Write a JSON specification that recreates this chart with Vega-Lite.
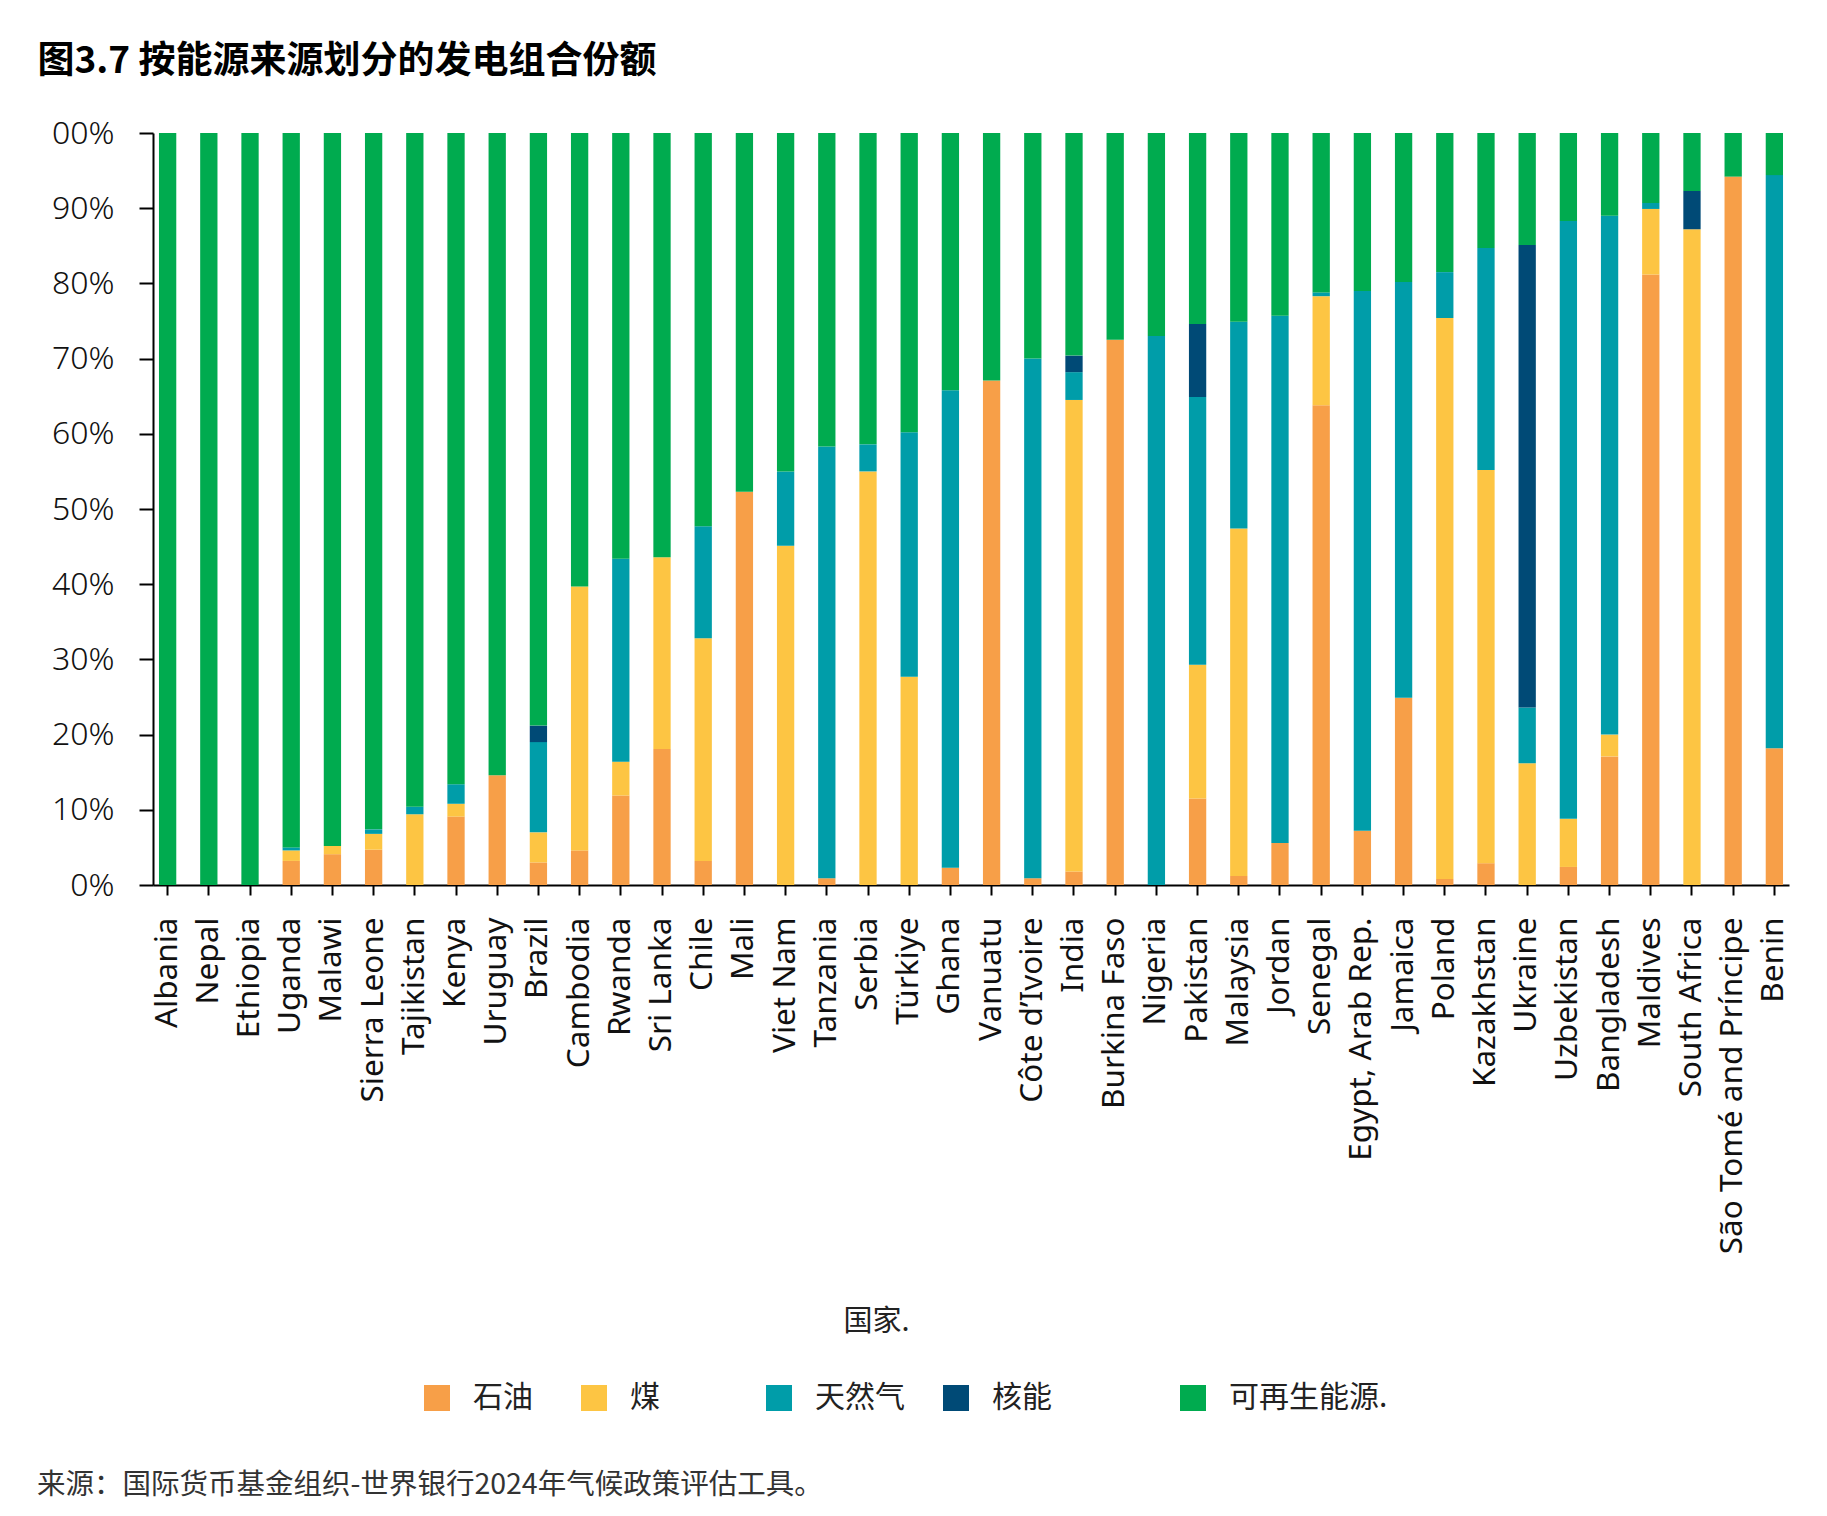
{
  "$schema": "https://vega.github.io/schema/vega-lite/v6.json",
  "width": 1636,
  "height": 752,
  "autosize": {"type": "none"},
  "padding": {"left": 153, "top": 133, "right": 38, "bottom": 631},
  "background": "white",
  "title": {
    "text": "来源：国际货币基金组织-世界银行2024年气候政策评估工具。",
    "orient": "bottom",
    "anchor": "start",
    "frame": "group",
    "dx": -116,
    "offset": 58,
    "font": "Noto Sans CJK SC",
    "fontSize": 28.5,
    "fontWeight": "normal",
    "color": "#333333"
  },
  "data": {
    "values": [
      {"c": "Albania", "s": "可再生能源.", "v": 100},
      {"c": "Nepal", "s": "可再生能源.", "v": 100},
      {"c": "Ethiopia", "s": "可再生能源.", "v": 100},
      {"c": "Uganda", "s": "石油", "v": 3.2}, {"c": "Uganda", "s": "煤", "v": 1.4}, {"c": "Uganda", "s": "天然气", "v": 0.4}, {"c": "Uganda", "s": "可再生能源.", "v": 95.0},
      {"c": "Malawi", "s": "石油", "v": 4.1}, {"c": "Malawi", "s": "煤", "v": 1.1}, {"c": "Malawi", "s": "可再生能源.", "v": 94.8},
      {"c": "Sierra Leone", "s": "石油", "v": 4.7}, {"c": "Sierra Leone", "s": "煤", "v": 2.1}, {"c": "Sierra Leone", "s": "天然气", "v": 0.6}, {"c": "Sierra Leone", "s": "可再生能源.", "v": 92.6},
      {"c": "Tajikistan", "s": "煤", "v": 9.4}, {"c": "Tajikistan", "s": "天然气", "v": 1.0}, {"c": "Tajikistan", "s": "可再生能源.", "v": 89.6},
      {"c": "Kenya", "s": "石油", "v": 9.1}, {"c": "Kenya", "s": "煤", "v": 1.7}, {"c": "Kenya", "s": "天然气", "v": 2.6}, {"c": "Kenya", "s": "可再生能源.", "v": 86.6},
      {"c": "Uruguay", "s": "石油", "v": 14.6}, {"c": "Uruguay", "s": "可再生能源.", "v": 85.4},
      {"c": "Brazil", "s": "石油", "v": 3.0}, {"c": "Brazil", "s": "煤", "v": 4.0}, {"c": "Brazil", "s": "天然气", "v": 12.0}, {"c": "Brazil", "s": "核能", "v": 2.2}, {"c": "Brazil", "s": "可再生能源.", "v": 78.8},
      {"c": "Cambodia", "s": "石油", "v": 4.6}, {"c": "Cambodia", "s": "煤", "v": 35.1}, {"c": "Cambodia", "s": "可再生能源.", "v": 60.3},
      {"c": "Rwanda", "s": "石油", "v": 11.9}, {"c": "Rwanda", "s": "煤", "v": 4.5}, {"c": "Rwanda", "s": "天然气", "v": 27.0}, {"c": "Rwanda", "s": "可再生能源.", "v": 56.6},
      {"c": "Sri Lanka", "s": "石油", "v": 18.1}, {"c": "Sri Lanka", "s": "煤", "v": 25.5}, {"c": "Sri Lanka", "s": "可再生能源.", "v": 56.4},
      {"c": "Chile", "s": "石油", "v": 3.2}, {"c": "Chile", "s": "煤", "v": 29.6}, {"c": "Chile", "s": "天然气", "v": 14.9}, {"c": "Chile", "s": "可再生能源.", "v": 52.3},
      {"c": "Mali", "s": "石油", "v": 52.3}, {"c": "Mali", "s": "可再生能源.", "v": 47.7},
      {"c": "Viet Nam", "s": "煤", "v": 45.1}, {"c": "Viet Nam", "s": "天然气", "v": 9.9}, {"c": "Viet Nam", "s": "可再生能源.", "v": 45.0},
      {"c": "Tanzania", "s": "石油", "v": 0.9}, {"c": "Tanzania", "s": "天然气", "v": 57.4}, {"c": "Tanzania", "s": "可再生能源.", "v": 41.7},
      {"c": "Serbia", "s": "煤", "v": 55.0}, {"c": "Serbia", "s": "天然气", "v": 3.6}, {"c": "Serbia", "s": "可再生能源.", "v": 41.4},
      {"c": "Türkiye", "s": "煤", "v": 27.7}, {"c": "Türkiye", "s": "天然气", "v": 32.5}, {"c": "Türkiye", "s": "可再生能源.", "v": 39.8},
      {"c": "Ghana", "s": "石油", "v": 2.3}, {"c": "Ghana", "s": "天然气", "v": 63.5}, {"c": "Ghana", "s": "可再生能源.", "v": 34.2},
      {"c": "Vanuatu", "s": "石油", "v": 67.1}, {"c": "Vanuatu", "s": "可再生能源.", "v": 32.9},
      {"c": "Côte d’Ivoire", "s": "石油", "v": 0.9}, {"c": "Côte d’Ivoire", "s": "天然气", "v": 69.1}, {"c": "Côte d’Ivoire", "s": "可再生能源.", "v": 30.0},
      {"c": "India", "s": "石油", "v": 1.8}, {"c": "India", "s": "煤", "v": 62.7}, {"c": "India", "s": "天然气", "v": 3.7}, {"c": "India", "s": "核能", "v": 2.2}, {"c": "India", "s": "可再生能源.", "v": 29.6},
      {"c": "Burkina Faso", "s": "石油", "v": 72.5}, {"c": "Burkina Faso", "s": "可再生能源.", "v": 27.5},
      {"c": "Nigeria", "s": "天然气", "v": 73.0}, {"c": "Nigeria", "s": "可再生能源.", "v": 27.0},
      {"c": "Pakistan", "s": "石油", "v": 11.5}, {"c": "Pakistan", "s": "煤", "v": 17.8}, {"c": "Pakistan", "s": "天然气", "v": 35.6}, {"c": "Pakistan", "s": "核能", "v": 9.7}, {"c": "Pakistan", "s": "可再生能源.", "v": 25.4},
      {"c": "Malaysia", "s": "石油", "v": 1.2}, {"c": "Malaysia", "s": "煤", "v": 46.2}, {"c": "Malaysia", "s": "天然气", "v": 27.5}, {"c": "Malaysia", "s": "可再生能源.", "v": 25.1},
      {"c": "Jordan", "s": "石油", "v": 5.6}, {"c": "Jordan", "s": "天然气", "v": 70.1}, {"c": "Jordan", "s": "可再生能源.", "v": 24.3},
      {"c": "Senegal", "s": "石油", "v": 63.8}, {"c": "Senegal", "s": "煤", "v": 14.5}, {"c": "Senegal", "s": "天然气", "v": 0.5}, {"c": "Senegal", "s": "可再生能源.", "v": 21.2},
      {"c": "Egypt, Arab Rep.", "s": "石油", "v": 7.2}, {"c": "Egypt, Arab Rep.", "s": "天然气", "v": 71.8}, {"c": "Egypt, Arab Rep.", "s": "可再生能源.", "v": 21.0},
      {"c": "Jamaica", "s": "石油", "v": 24.9}, {"c": "Jamaica", "s": "天然气", "v": 55.3}, {"c": "Jamaica", "s": "可再生能源.", "v": 19.8},
      {"c": "Poland", "s": "石油", "v": 0.8}, {"c": "Poland", "s": "煤", "v": 74.6}, {"c": "Poland", "s": "天然气", "v": 6.1}, {"c": "Poland", "s": "可再生能源.", "v": 18.5},
      {"c": "Kazakhstan", "s": "石油", "v": 2.9}, {"c": "Kazakhstan", "s": "煤", "v": 52.3}, {"c": "Kazakhstan", "s": "天然气", "v": 29.5}, {"c": "Kazakhstan", "s": "可再生能源.", "v": 15.3},
      {"c": "Ukraine", "s": "煤", "v": 16.2}, {"c": "Ukraine", "s": "天然气", "v": 7.4}, {"c": "Ukraine", "s": "核能", "v": 61.5}, {"c": "Ukraine", "s": "可再生能源.", "v": 14.9},
      {"c": "Uzbekistan", "s": "石油", "v": 2.4}, {"c": "Uzbekistan", "s": "煤", "v": 6.4}, {"c": "Uzbekistan", "s": "天然气", "v": 79.5}, {"c": "Uzbekistan", "s": "可再生能源.", "v": 11.7},
      {"c": "Bangladesh", "s": "石油", "v": 17.1}, {"c": "Bangladesh", "s": "煤", "v": 2.9}, {"c": "Bangladesh", "s": "天然气", "v": 69.0}, {"c": "Bangladesh", "s": "可再生能源.", "v": 11.0},
      {"c": "Maldives", "s": "石油", "v": 81.2}, {"c": "Maldives", "s": "煤", "v": 8.7}, {"c": "Maldives", "s": "天然气", "v": 0.8}, {"c": "Maldives", "s": "可再生能源.", "v": 9.3},
      {"c": "South Africa", "s": "煤", "v": 87.2}, {"c": "South Africa", "s": "核能", "v": 5.1}, {"c": "South Africa", "s": "可再生能源.", "v": 7.7},
      {"c": "São Tomé and Príncipe", "s": "石油", "v": 94.2}, {"c": "São Tomé and Príncipe", "s": "可再生能源.", "v": 5.8},
      {"c": "Benin", "s": "石油", "v": 18.2}, {"c": "Benin", "s": "天然气", "v": 76.2}, {"c": "Benin", "s": "可再生能源.", "v": 5.6}
    ]
  },
  "transform": [
    {
      "lookup": "s",
      "from": {
        "data": {"values": [
          {"s": "石油", "k": 1},
          {"s": "煤", "k": 2},
          {"s": "天然气", "k": 3},
          {"s": "核能", "k": 4},
          {"s": "可再生能源.", "k": 5}
        ]},
        "key": "s",
        "fields": ["k"]
      }
    }
  ],
  "mark": {"type": "bar"},
  "encoding": {
    "x": {
      "field": "c",
      "type": "nominal",
      "sort": null,
      "scale": {"paddingInner": 0.58, "paddingOuter": 0.145},
      "axis": {
        "title": "国家.",
        "titleFont": "Noto Sans CJK SC",
        "titleFontSize": 29,
        "titleFontWeight": "normal",
        "titleColor": "#222222",
        "titleX": 723,
        "titleY": 436,
        "titleBaseline": "middle",
        "titleAlign": "center",
        "labelAngle": -90,
        "labelFont": "Noto Sans",
        "labelFontSize": 31.5,
        "labelColor": "#111111",
        "labelPadding": 22,
        "labelLimit": 0,
        "tickSize": 10,
        "tickWidth": 2,
        "tickColor": "#000000",
        "domainColor": "#000000",
        "domainWidth": 2
      }
    },
    "y": {
      "field": "v",
      "type": "quantitative",
      "stack": "zero",
      "scale": {"domain": [0, 100], "nice": false},
      "axis": {
        "values": [0, 10, 20, 30, 40, 50, 60, 70, 80, 90, 100],
        "labelExpr": "datum.value == 100 ? '00%' : datum.value + '%'",
        "labelFont": "Noto Sans",
        "labelFontWeight": 300,
        "labelFontSize": 32,
        "labelColor": "#111111",
        "labelPadding": 25,
        "tickSize": 14,
        "tickWidth": 2,
        "tickColor": "#000000",
        "domainColor": "#000000",
        "domainWidth": 2,
        "grid": false,
        "title": "图3.7 按能源来源划分的发电组合份额",
        "titleAngle": 0,
        "titleX": -116,
        "titleY": -72,
        "titleAlign": "left",
        "titleBaseline": "middle",
        "titleFont": "Noto Sans CJK SC",
        "titleFontSize": 37,
        "titleFontWeight": "bold",
        "titleColor": "#000000"
      }
    },
    "color": {
      "field": "s",
      "type": "nominal",
      "scale": {
        "domain": ["石油", "煤", "天然气", "核能", "可再生能源."],
        "range": ["#F79F48", "#FDC543", "#009DA9", "#004A76", "#00AB4F"]
      },
      "legend": {
        "title": null,
        "orient": "none",
        "legendX": 269,
        "legendY": 1250,
        "direction": "horizontal",
        "padding": 0,
        "symbolType": "square",
        "symbolSize": 676,
        "symbolStrokeWidth": 0,
        "symbolOpacity": 1,
        "labelFont": "Noto Sans CJK SC",
        "labelFontSize": 30,
        "labelColor": "#222222",
        "labelOffset": 21,
        "labelLimit": 0,
        "columnPadding": 36,
        "labelExpr": "datum.label == '石油' ? '石油\u2004\u200B' : datum.label == '煤' ? '煤\u3000\u3000\u2005\u200B' : datum.label == '核能' ? '核能\u3000\u3000\u3000\u200B' : datum.label"
      }
    },
    "order": {"field": "k", "sort": "ascending"}
  },
  "config": {
    "view": {"stroke": null}
  }
}
